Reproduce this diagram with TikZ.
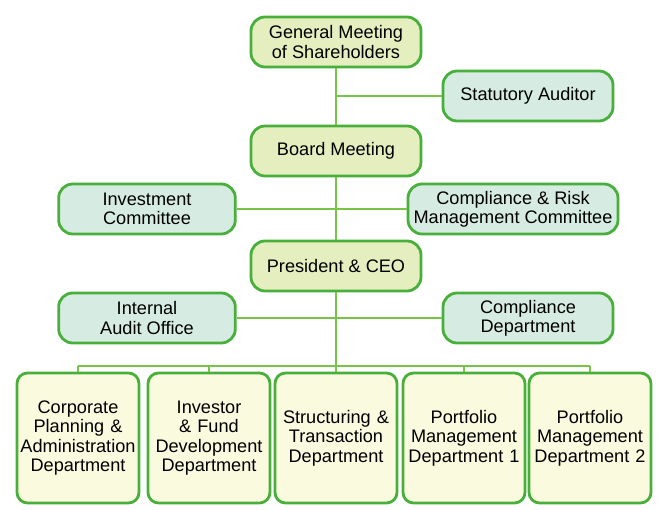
\documentclass[tikz,border=0pt]{standalone}
\usepackage{fontspec}
\setmainfont{Liberation Sans}
\usetikzlibrary{positioning}
\definecolor{boxgreen}{RGB}{72,176,58}
\definecolor{linegreen}{RGB}{120,196,70}
\definecolor{mainfill}{RGB}{228,238,190}
\definecolor{sidefill}{RGB}{214,236,226}
\definecolor{deptfill}{RGB}{250,250,222}

\begin{document}
\begin{tikzpicture}[
    x=0.03cm, y=-0.03cm,
    box/.style={draw=boxgreen, line width=2.4pt, rounded corners=12pt, align=center, font=\fontsize{15.5}{16.5}\selectfont, inner sep=2pt},
    mainbox/.style={box, fill=mainfill, minimum width=5.1cm, minimum height=1.5cm},
    sidebox/.style={box, fill=sidefill, minimum height=1.5cm},
    deptbox/.style={box, fill=deptfill, rounded corners=9pt, minimum width=3.66cm, minimum height=3.9cm, text width=3.5cm},
    link/.style={draw=linegreen, line width=1.6pt}
]
\useasboundingbox (0,0) rectangle (670,510);

\node[mainbox] (gm) at (336,42) {General Meeting\\of Shareholders};
\node[sidebox, minimum width=5.1cm] (auditor) at (528,96) {Statutory Auditor};
\node[mainbox] (board) at (336,151) {Board Meeting};
\node[sidebox, minimum width=5.3cm] (invest) at (147,209) {Investment\\Committee};
\node[sidebox, minimum width=6.3cm] (risk) at (513,209) {Compliance \& Risk\\Management Committee};
\node[mainbox] (ceo) at (336,266) {President \& CEO};
\node[sidebox, minimum width=5.3cm] (internal) at (147,318) {Internal\\Audit Office};
\node[sidebox, minimum width=5.1cm] (compl) at (528,318) {Compliance\\Department};

\node[deptbox] (d1) at (78,438) {Corporate\\Planning \&\\Administration\\Department};
\node[deptbox] (d2) at (209,438) {Investor\\\& Fund\\Development\\Department};
\node[deptbox] (d3) at (336,438) {Structuring \&\\Transaction\\Department};
\node[deptbox] (d4) at (464,438) {Portfolio\\Management\\Department 1};
\node[deptbox] (d5) at (590,438) {Portfolio\\Management\\Department 2};

% connectors
\coordinate (bus) at (336,366);
\path[link] (gm) -- (board);
\path[link] (board) -- (ceo);
\path[link] (ceo) -- (bus);
\path[link] (auditor.west) -- (auditor.west -| gm);
\path[link] (invest.east) -- (risk.west);
\path[link] (internal.east) -- (compl.west);
\path[link] (d1.north |- bus) -- (d5.north |- bus);
\foreach \d in {d1,d2,d3,d4,d5}
  \path[link] (\d.north |- bus) -- (\d.north);
\end{tikzpicture}
\end{document}
